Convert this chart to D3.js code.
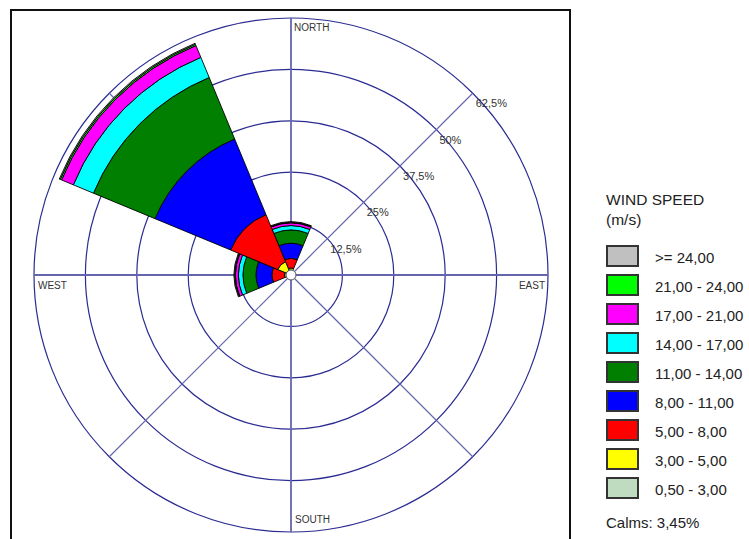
<!DOCTYPE html>
<html>
<head>
<meta charset="utf-8">
<script src="https://cdn.jsdelivr.net/npm/d3@7"></script>
<style>
  body { margin: 0; background: #fff; }
  svg text { font-family: "Liberation Sans", Arial, sans-serif; }
</style>
</head>
<body>
<div id="chart"></div>
<script>
// wind directions (8 sectors, 45 deg each)
const directions = ["N", "NE", "E", "SE", "S", "SW", "W", "NW"];
const directionAngles = [0, 45, 90, 135, 180, 225, 270, 315];

// speed classes, inner to outer
const speedBins = ["0,50 - 3,00", "3,00 - 5,00", "5,00 - 8,00", "8,00 - 11,00", "11,00 - 14,00",
                   "14,00 - 17,00", "17,00 - 21,00", "21,00 - 24,00", ">= 24,00"];
const binColors = ["#c0dcc0", "#ffff00", "#ff0000", "#0000ff", "#007f00",
                   "#00ffff", "#ff00ff", "#00ff00", "#c0c0c0"];

// frequency (%) per speed class for each direction
const freqN  = [1.2, 0.5, 2.36, 3.65, 3.23, 1.05, 0.66, 0.14, 0.17];
const freqNE = [0, 0, 0, 0, 0, 0, 0, 0, 0];
const freqE  = [0, 0, 0, 0, 0, 0, 0, 0, 0];
const freqSE = [0, 0, 0, 0, 0, 0, 0, 0, 0];
const freqS  = [0, 0, 0, 0, 0, 0, 0, 0, 0];
const freqSW = [0, 0, 0, 0, 0, 0, 0, 0, 0];
const freqW  = [1.2, 0.4, 3.02, 3.89, 3.16, 1.1, 0.73, 0.17, 0.19];
const freqNW = [1.2, 2.3, 12.4, 19.9, 16.2, 5.3, 3.1, 0.35, 0.25];
const freqByDir = [freqN, freqNE, freqE, freqSE, freqS, freqSW, freqW, freqNW];

const ringTicks = [12.5, 25, 37.5, 50, 62.5];
const ringLabels = ["12,5%", "25%", "37,5%", "50%", "62,5%"];
const calmsLabel = "Calms: 3,45%";

class WindRose {

    constructor(parentElement) {
        const vis = this;
        vis.parentElement = parentElement;
        vis.initVis();
    }

    initVis() {
        const vis = this;

        vis.svg = d3.select("#" + vis.parentElement).append("svg")
            .attr("width", 749)
            .attr("height", 539);

        // frame around the rose
        vis.svg.append("rect")
            .attr("x", 11).attr("y", 10)
            .attr("width", 559).attr("height", 540)
            .attr("fill", "none")
            .attr("stroke", "#111")
            .attr("stroke-width", 2);

        vis.cx = 291;
        vis.cy = 275;
        vis.rmax = 257;

        vis.r = d3.scaleLinear()
            .domain([0, 62.5])
            .range([0, vis.rmax]);

        vis.g = vis.svg.append("g")
            .attr("transform", "translate(" + vis.cx + "," + vis.cy + ")");

        // rings
        vis.g.selectAll(".ring")
            .data(ringTicks)
            .enter().append("circle")
            .attr("class", "ring")
            .attr("r", d => vis.r(d))
            .attr("fill", "none")
            .attr("stroke", "#2b2b92")
            .attr("stroke-width", 1.2);

        // spokes
        vis.g.selectAll(".spoke")
            .data(directionAngles)
            .enter().append("line")
            .attr("class", "spoke")
            .attr("x1", 0).attr("y1", 0)
            .attr("x2", d => vis.rmax * Math.sin(d * Math.PI / 180))
            .attr("y2", d => -vis.rmax * Math.cos(d * Math.PI / 180))
            .attr("stroke", "#6565ad")
            .attr("stroke-width", d => d % 90 === 0 ? 1.8 : 1.2);

        // ring labels on the NE spoke
        vis.g.selectAll(".ring-label")
            .data(ringTicks)
            .enter().append("text")
            .attr("class", "ring-label")
            .attr("x", d => vis.r(d) * Math.SQRT1_2 + 3)
            .attr("y", d => -vis.r(d) * Math.SQRT1_2 + 14)
            .attr("font-size", 11)
            .attr("fill", "#333")
            .text((d, i) => ringLabels[i]);

        // compass labels
        const compass = [
            {text: "NORTH", x: 3, y: -vis.rmax + 13, anchor: "start"},
            {text: "SOUTH", x: 4, y: vis.rmax - 9, anchor: "start"},
            {text: "WEST", x: -vis.rmax + 4, y: 14, anchor: "start"},
            {text: "EAST", x: vis.rmax - 3, y: 14, anchor: "end"}
        ];
        vis.g.selectAll(".compass")
            .data(compass)
            .enter().append("text")
            .attr("class", "compass")
            .attr("x", d => d.x)
            .attr("y", d => d.y)
            .attr("text-anchor", d => d.anchor)
            .attr("font-size", 10)
            .attr("fill", "#333")
            .text(d => d.text);

        vis.arc = d3.arc();
        vis.updateVis();
        vis.drawLegend();
    }

    updateVis() {
        const vis = this;

        // build stacked segments per direction
        const segments = [];
        freqByDir.forEach((vals, di) => {
            let cum = 0;
            const a = directionAngles[di] * Math.PI / 180;
            vals.forEach((v, bi) => {
                if (v > 0) {
                    segments.push({
                        inner: cum, outer: cum + v, bin: bi,
                        start: a - Math.PI / 8, end: a + Math.PI / 8
                    });
                }
                cum += v;
            });
        });

        vis.g.selectAll(".segment")
            .data(segments)
            .enter().append("path")
            .attr("class", "segment")
            .attr("d", d => vis.arc({
                innerRadius: vis.r(d.inner),
                outerRadius: vis.r(d.outer),
                startAngle: d.start,
                endAngle: d.end
            }))
            .attr("fill", d => binColors[d.bin])
            .attr("stroke", "#000")
            .attr("stroke-width", 0.9);

        // calm circle
        vis.g.append("circle")
            .attr("r", 5)
            .attr("fill", "#fff")
            .attr("stroke", "#555")
            .attr("stroke-width", 1);
    }

    drawLegend() {
        const vis = this;
        const lg = vis.svg.append("g");

        lg.append("text").attr("x", 606).attr("y", 205)
            .attr("font-size", 15.5).attr("fill", "#222").text("WIND SPEED");
        lg.append("text").attr("x", 606).attr("y", 225)
            .attr("font-size", 15.5).attr("fill", "#222").text("(m/s)");

        const order = d3.range(speedBins.length).reverse();

        const items = lg.selectAll(".item")
            .data(order)
            .enter().append("g")
            .attr("class", "item")
            .attr("transform", (d, i) => "translate(606," + (245 + i * 29) + ")");

        items.append("rect")
            .attr("x", 1).attr("y", 1)
            .attr("width", 31).attr("height", 20)
            .attr("fill", d => binColors[d])
            .attr("stroke", "#333")
            .attr("stroke-width", 2);

        items.append("text")
            .attr("x", 49).attr("y", 17.5)
            .attr("font-size", 15)
            .attr("fill", "#222")
            .text(d => speedBins[d]);

        lg.append("text").attr("x", 606).attr("y", 528)
            .attr("font-size", 15).attr("fill", "#222").text(calmsLabel);
    }
}

new WindRose("chart");
</script>
</body>
</html>
